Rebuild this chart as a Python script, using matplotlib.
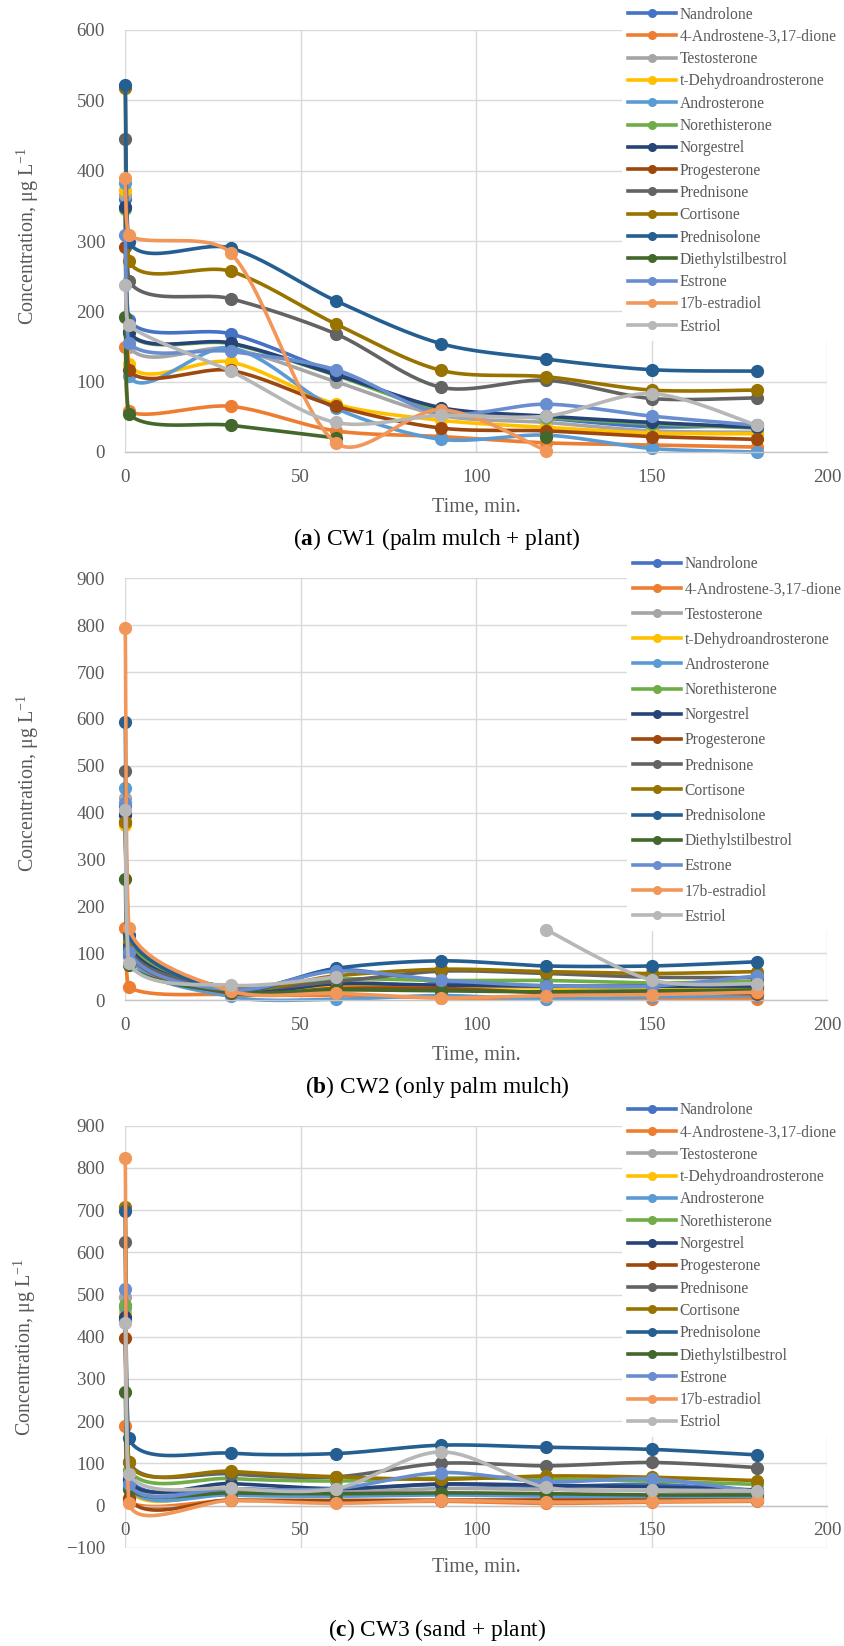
import numpy as np
import matplotlib
matplotlib.use("Agg")
import matplotlib.pyplot as plt
from matplotlib.lines import Line2D

nan = np.nan

# sampling times, min (0 = influent, 1 = first sample)
TIME = [0, 1, 30, 60, 90, 120, 150, 180]

COMPOUNDS = [
    "Nandrolone", "4-Androstene-3,17-dione", "Testosterone", "t-Dehydroandrosterone",
    "Androsterone", "Norethisterone", "Norgestrel", "Progesterone", "Prednisone",
    "Cortisone", "Prednisolone", "Diethylstilbestrol", "Estrone", "17b-estradiol", "Estriol",
]
COLORS = [
    "#4472C4", "#ED7D31", "#A5A5A5", "#FFC000", "#5B9BD5", "#70AD47", "#264478",
    "#9E480E", "#636363", "#997300", "#255E91", "#43682B", "#698ED0", "#F1975A", "#B7B7B7",
]

# concentrations, ug/L, one row per compound (same order as COMPOUNDS)
CW1 = [
    [360, 187, 168, 112, 60, 48, 36, 38],
    [149, 58, 65, 30, 22, 13, 10, 7],
    [365, 150, 147, 100, 52, 42, 30, 28],
    [372, 125, 128, 68, 45, 35, 27, 26],
    [382, 108, 148, 62, 18, 24, 5, 0],
    [346, 169, 154, 109, 59, 49, 40, 34],
    [348, 170, 155, 110, 63, 51, 42, 35],
    [292, 116, 116, 65, 34, 30, 22, 18],
    [445, 243, 218, 168, 92, 102, 76, 77],
    [518, 271, 257, 182, 116, 107, 88, 88],
    [522, 298, 290, 215, 154, 132, 117, 115],
    [192, 54, 38, 20, nan, 22, nan, nan],
    [308, 155, 143, 117, 55, 68, 51, 38],
    [389, 308, 283, 13, 60, 2, nan, nan],
    [237, 180, 115, 42, 52, 51, 83, 38],
]
CW2 = [
    [415, 110, 20, 65, 38, 28, 25, 30],
    [155, 28, 12, 10, 5, 3, 3, 3],
    [431, 95, 22, 40, 28, 30, 25, 28],
    [374, 120, 18, 30, 30, 26, 22, 25],
    [453, 95, 8, 2, 10, 2, 7, 10],
    [400, 125, 25, 45, 42, 42, 37, 40],
    [395, 115, 20, 35, 32, 30, 30, 30],
    [381, 100, 15, 25, 25, 16, 16, 14],
    [489, 110, 28, 40, 62, 57, 49, 48],
    [380, 130, 25, 52, 66, 61, 57, 61],
    [593, 140, 22, 68, 84, 73, 73, 82],
    [258, 75, 18, 22, 20, 18, 20, 22],
    [420, 103, 22, 62, 43, 31, 30, 52],
    [793, 155, 20, 15, 5, 10, 12, 17],
    [405, 79, 32, 49, nan, 150, 43, 35],
]
CW3 = [
    [440, 64, 40, 38, 50, 45, 50, 35],
    [188, 10, 12, 8, 10, 5, 8, 10],
    [495, 55, 35, 32, 40, 38, 35, 30],
    [459, 40, 30, 27, 28, 25, 23, 22],
    [470, 45, 25, 22, 25, 22, 20, 18],
    [475, 85, 64, 58, 65, 63, 58, 50],
    [447, 60, 52, 40, 51, 48, 44, 37],
    [398, 17, 13, 12, 13, 13, 13, 13],
    [624, 104, 75, 68, 100, 94, 102, 90],
    [708, 102, 81, 68, 62, 70, 67, 59],
    [699, 159, 124, 123, 143, 138, 133, 120],
    [270, 40, 30, 28, 30, 28, 25, 25],
    [512, 52, 40, 40, 78, 56, 63, 33],
    [824, 5, 12, 5, 12, 8, 10, 12],
    [432, 75, 41, 40, 127, 43, 37, 35],
]

TITLES = [
    r"($\mathbf{a}$) CW1 (palm mulch + plant)",
    r"($\mathbf{b}$) CW2 (only palm mulch)",
    r"($\mathbf{c}$) CW3 (sand + plant)",
]
Y_LIMITS = [(0, 600), (0, 900), (-100, 900)]

W, H = 844, 1646
GREY_TXT = "#595959"

plt.rcParams["font.family"] = ["Liberation Serif", "DejaVu Serif"]
plt.rcParams["mathtext.fontset"] = "custom"
plt.rcParams["mathtext.rm"] = "Liberation Serif"
plt.rcParams["mathtext.it"] = "Liberation Serif:italic"
plt.rcParams["mathtext.bf"] = "Liberation Serif:bold"


def smooth_runs(xs, ys, kx, ky, steps=30, cap=0.3):
    """Excel-like smoothed line: cubic Bezier with Catmull-Rom tangents, worked out in
    pixel space (kx, ky = px per data unit). Handle length is capped to a share of the
    segment and control points are kept inside the segment's x range (no loops).
    Missing values split the series into separate runs."""
    xs = np.asarray(xs, float)
    ys = np.asarray(ys, float)
    ok = ~np.isnan(ys)
    runs, cur = [], []
    for i in range(len(xs)):
        if ok[i]:
            cur.append(i)
        elif cur:
            runs.append(cur)
            cur = []
    if cur:
        runs.append(cur)

    out = []
    t = np.linspace(0, 1, steps)[:, None]
    for idx in runs:
        if len(idx) < 2:
            continue
        p = np.column_stack([xs[idx] * kx, ys[idx] * ky])
        n = len(p)
        segs = []
        for i in range(n - 1):
            p0 = p[i - 1] if i > 0 else p[i]
            p1, p2 = p[i], p[i + 1]
            p3 = p[i + 2] if i + 2 < n else p[i + 1]
            seg = np.hypot(*(p2 - p1))
            h1 = (p2 - p0) / 6
            h2 = (p3 - p1) / 6
            for h in (h1, h2):
                ln = np.hypot(*h)
                if ln > cap * seg:
                    h *= cap * seg / ln
            c1 = p1 + h1
            c2 = p2 - h2
            lo, hi = min(p1[0], p2[0]), max(p1[0], p2[0])
            c1[0] = np.clip(c1[0], lo, hi)
            c2[0] = np.clip(c2[0], lo, hi)
            b = ((1 - t) ** 3) * p1 + 3 * ((1 - t) ** 2) * t * c1 + 3 * (1 - t) * t ** 2 * c2 + t ** 3 * p2
            segs.append(b if i == 0 else b[1:])
        curve = np.vstack(segs)
        out.append((curve[:, 0] / kx, curve[:, 1] / ky))
    return out


# panel layout in pixels: axes top/bottom, legend anchor, label positions
PANELS = [
    dict(top=30.0, bottom=452.0, leg=(621.8, 0.3), lsp=0.405, ylab=(-0.139, 0.512), xlab=-0.130, title_y=539),
    dict(top=578.3, bottom=1000.2, leg=(627.0, 550.0), lsp=0.59, ylab=(-0.139, 0.515), xlab=-0.130, title_y=1087),
    dict(top=1125.7, bottom=1547.7, leg=(621.8, 1096.0), lsp=0.405, ylab=(-0.143, 0.476), xlab=-0.045, title_y=1630),
]
LEFT, RIGHT = 125.3, 827.0

fig = plt.figure(figsize=(W / 100, H / 100), dpi=100)

for conc, ylim, title, spec in zip([CW1, CW2, CW3], Y_LIMITS, TITLES, PANELS):
    ax = fig.add_axes([LEFT / W, 1 - spec["bottom"] / H, (RIGHT - LEFT) / W,
                       (spec["bottom"] - spec["top"]) / H])
    ax.set_xlim(0, 200)
    ax.set_ylim(*ylim)
    ax.set_xticks(np.arange(0, 201, 50))
    ax.set_yticks(np.arange(ylim[0], ylim[1] + 1, 100))
    ax.grid(True, color="#D9D9D9", lw=1.0)
    ax.set_axisbelow(True)
    for side in ["top", "right", "left"]:
        ax.spines[side].set_visible(False)
    ax.spines["bottom"].set_position(("data", 0))
    ax.spines["bottom"].set_color("#C4C4C4")
    ax.spines["bottom"].set_linewidth(1.0)
    ax.tick_params(axis="both", length=0, labelsize=13.6, labelcolor=GREY_TXT)
    ax.tick_params(axis="y", pad=14.6)
    ax.tick_params(axis="x", pad=11.9)

    kx = (RIGHT - LEFT) / 200
    ky = (spec["bottom"] - spec["top"]) / (ylim[1] - ylim[0])
    for k, (vals, col) in enumerate(zip(conc, COLORS)):
        z = 2 + k * 0.1
        for sx, sy in smooth_runs(TIME, vals, kx, ky):
            ax.plot(sx, sy, color=col, lw=2.6, solid_capstyle="round", clip_on=False, zorder=z)
        ax.plot(TIME, vals, "o", color=col, ms=8.5, mec=col, clip_on=False, zorder=z + 0.05)

    ax.set_xlabel("Time, min.", fontsize=14.6, color=GREY_TXT)
    ax.xaxis.set_label_coords(0.5, spec["xlab"])
    ax.xaxis.label.set_va("center")
    ax.set_ylabel(r"Concentration, μg L$^{-1}$", fontsize=14.4, color=GREY_TXT)
    ax.yaxis.set_label_coords(*spec["ylab"])
    ax.yaxis.label.set_va("center")
    ax.yaxis.label.set_ha("center")

    handles = [Line2D([], [], color=c, lw=2.6, marker="o", ms=5.5) for c in COLORS]
    lx, ly = spec["leg"]
    leg = ax.legend(handles, COMPOUNDS, loc="upper left", bbox_to_anchor=(lx / W, 1 - ly / H),
                    bbox_transform=fig.transFigure, frameon=True, fancybox=False,
                    facecolor="white", edgecolor="none", framealpha=1, borderpad=0.4,
                    borderaxespad=0, handlelength=3.1, handletextpad=0.2,
                    labelspacing=spec["lsp"], fontsize=11.2, labelcolor=GREY_TXT)
    leg.set_zorder(10)

    fig.text(437 / W, 1 - spec["title_y"] / H, title, ha="center", va="center",
             fontsize=16.8, color="black")

fig.savefig("out.png", dpi=100, facecolor="white")
